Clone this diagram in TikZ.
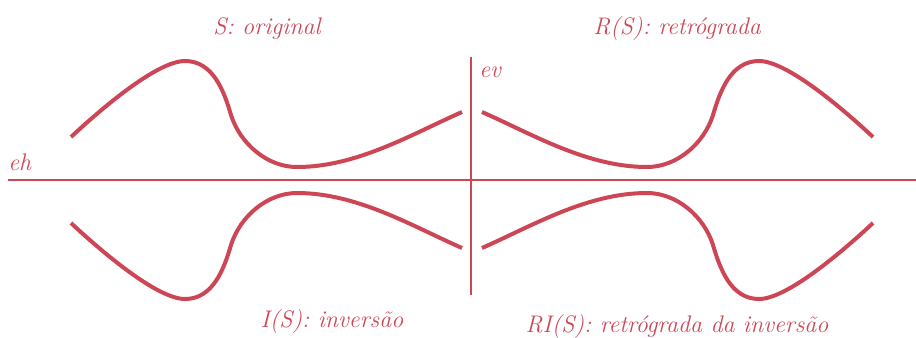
\documentclass[tikz,border=0pt]{standalone}
\usepackage{xcolor}
\usepackage{tikz}
\usetikzlibrary{positioning}
\definecolor{motRed}{RGB}{205,70,85}

\begin{document}
\begin{tikzpicture}[
    x=0.75pt, y=-0.75pt,
    every node/.style={font=\fontsize{18}{21}\selectfont\itshape, text=motRed, inner sep=0pt},
    axis/.style={draw=motRed, line width=0.9pt},
    motif/.style={draw=motRed, line width=3pt}
]
\useasboundingbox (0,0) rectangle (916,337);
\coordinate (o) at (472,180);
\coordinate (hl) at (8,180);
\coordinate (hr) at (916,180);
\coordinate (vt) at (471,57);
\coordinate (vb) at (471,295);
\draw[axis] (hl) -- (hr);
\draw[axis] (vt) -- (vb);
\node[anchor=base west] (eh) at (8,170) {eh};
\node[anchor=base west] (ev) at (479,77) {ev};

\node[anchor=base] (orig) at (267,34) {S: original};
\node[anchor=base] (retro) at (677,34) {R(S): retrógrada};
\node[anchor=base] (inv) at (332,327) {I(S): inversão};
\node[anchor=base] (retroinv) at (677,332) {RI(S): retrógrada da inversão};

\foreach \sx/\sy in {1/1,-1/1,1/-1,-1/-1} {
  \begin{scope}[shift={(o)}, xscale=\sx, yscale=\sy]
    \draw[motif] (-401,-43) .. controls (-371,-71) and (-315,-119) .. (-287,-119)
      .. controls (-259,-119) and (-248,-89) .. (-241,-65)
      .. controls (-232,-36.5) and (-205,-13) .. (-175,-13)
      .. controls (-115,-13) and (-60,-46) .. (-10,-68);
  \end{scope}
}
\end{tikzpicture}
\end{document}
